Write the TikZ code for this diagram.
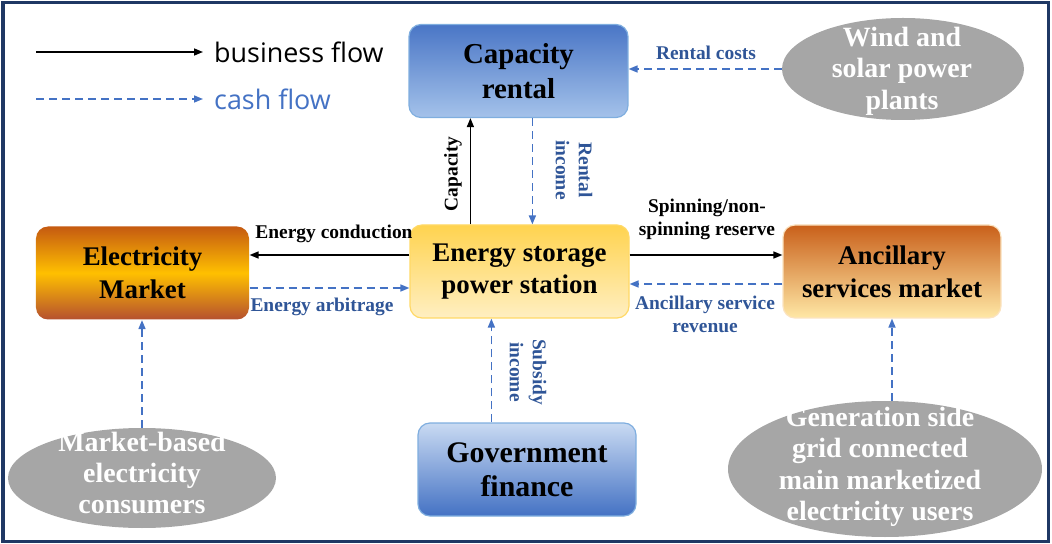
\documentclass[tikz,border=0pt]{standalone}
\usepackage{fontspec}
\setmainfont{Liberation Serif}
\newfontfamily\legendfont{Open Sans}
\usetikzlibrary{positioning,arrows.meta,shapes.geometric}
\definecolor{frameblue}{HTML}{1F3864}
\definecolor{cashblue}{HTML}{4472C4}
\definecolor{cashtext}{HTML}{2F5597}
\definecolor{capTop}{HTML}{4A76C6}
\definecolor{capBot}{HTML}{A4C2EA}
\definecolor{capEdge}{HTML}{7FAEDF}
\definecolor{govTop}{HTML}{C9DAF2}
\definecolor{govBot}{HTML}{4472C4}
\definecolor{stoTop}{HTML}{FFD34F}
\definecolor{stoBot}{HTML}{FFEFC2}
\definecolor{stoEdge}{HTML}{FFD966}
\definecolor{mktTop}{HTML}{C55A11}
\definecolor{mktMid}{HTML}{FFC000}
\definecolor{mktBot}{HTML}{B5502E}
\definecolor{ancTop}{HTML}{C9601A}
\definecolor{ancBot}{HTML}{FFE8A6}
\definecolor{ancEdge}{HTML}{FBE3C0}
\definecolor{ellgray}{HTML}{A6A6A6}
\tikzset{
  box/.style={rounded corners=12bp, minimum width=219bp, minimum height=93bp, align=center,
    font=\bfseries\fontsize{27}{33}\selectfont, line width=1.2bp, inner sep=0pt},
  bizflow/.style={-{Triangle[length=9bp,width=7bp]}, line width=1.5bp, black},
  cashflow/.style={-{Triangle[length=9bp,width=7bp]}, line width=1.6bp, cashblue, dash pattern=on 8bp off 5bp},
  flowlbl/.style={font=\bfseries\fontsize{19.5}{23}\selectfont, align=center, inner sep=0pt},
  cashlbl/.style={flowlbl, text=cashtext},
  grayell/.style={ellipse, fill=ellgray, inner sep=0pt},
  elltxt/.style={text=white, font=\bfseries\fontsize{28}{31.5}\selectfont, align=center, inner sep=0pt},
  legendlbl/.style={anchor=west, inner sep=0pt, font=\legendfont\fontsize{27}{30}\selectfont}
}
\begin{document}
\begin{tikzpicture}[x=1bp,y=-1bp]
\useasboundingbox (0,0) rectangle (1052,544);
\draw[frameblue, line width=3bp] (3,3) rectangle (1048,541);

\coordinate (bizA) at (36,52);
\node[legendlbl] (bizlbl) at (214,52) {business flow};
\draw[bizflow] (bizA) -- ([xshift=-11bp]bizlbl.west);
\coordinate (cashA) at (36,99);
\node[legendlbl, text=cashblue] (cashlbl) at (214,99) {cash flow};
\draw[cashflow] (cashA) -- ([xshift=-11bp]cashlbl.west);

\node[box, top color=capTop, bottom color=capBot, draw=capEdge, font=\bfseries\fontsize{29}{35}\selectfont] (cap) at (518.5,71) {Capacity\\rental};
\node[box, top color=stoTop, bottom color=stoBot, draw=stoEdge] (store) at (519.5,271.5) {Energy storage\\power station};
\node[box, minimum width=213bp, top color=mktTop, bottom color=mktBot, middle color=mktMid] (mkt) at (142.5,273) {Electricity\\Market};
\node[box, minimum width=218bp, top color=ancTop, bottom color=ancBot, draw=ancEdge] (anc) at (892,271.5) {Ancillary\\services market};
\node[box, minimum width=218bp, top color=govTop, bottom color=govBot, draw=capEdge, font=\bfseries\fontsize{30}{34}\selectfont] (gov) at (527,469.5) {Government\\finance};

\node[grayell, minimum width=242bp, minimum height=102bp] (wind) at (903,69) {};
\node[elltxt] (windtxt) at (902,71) {Wind and\\solar power\\plants};
\node[grayell, minimum width=268bp, minimum height=100bp] (cons) at (142,478) {};
\node[elltxt] (constxt) at (142,473) {Market-based\\electricity\\consumers};
\node[grayell, minimum width=314bp, minimum height=136bp] (gen) at (885,469) {};
\node[elltxt] (gentxt) at (880,467) {Generation side\\grid connected\\main marketized\\electricity users};

\coordinate (capx) at ([xshift=62bp]cap.south west);
\draw[bizflow] (capx |- store.north) -- (capx);
\node[flowlbl, rotate=90] (caplbl) at (453,174) {Capacity};
\coordinate (rentx) at ([xshift=124bp]cap.south west);
\draw[cashflow] (rentx) -- (rentx |- store.north);
\node[cashlbl, rotate=-90] (rentlbl) at (574,170) {Rental\\income};

\draw[cashflow] (wind.west) -- (wind.west -| cap.east);
\node[cashlbl] (costlbl) at (706,53) {Rental costs};

\coordinate (condR) at ([yshift=16.5bp]store.west);
\draw[bizflow] (condR) -- (condR -| mkt.east);
\node[flowlbl] (condlbl) at (334,234) {Energy conduction};
\coordinate (arbR) at ([yshift=-16.5bp]store.west);
\draw[cashflow] (arbR -| mkt.east) -- (arbR);
\node[cashlbl] (arblbl) at (322,307) {Energy arbitrage};

\coordinate (spinL) at ([yshift=16.5bp]store.east);
\draw[bizflow] (spinL) -- (spinL -| anc.west);
\node[flowlbl] (spinlbl) at (707,219) {Spinning/non-\\spinning reserve};
\coordinate (revL) at ([yshift=-12.5bp]store.east);
\draw[cashflow] (revL -| anc.west) -- (revL);
\node[cashlbl] (revlbl) at (705,314) {Ancillary service\\revenue};

\coordinate (subx) at ([xshift=74bp]gov.north west);
\draw[cashflow] (subx) -- (subx |- store.south);
\node[cashlbl, rotate=-90] (sublbl) at (528,372) {Subsidy\\income};

\draw[cashflow] (cons.north) -- (cons.north |- mkt.south);
\draw[cashflow] (anc.south |- gen.north) -- (anc.south);
\end{tikzpicture}
\end{document}
